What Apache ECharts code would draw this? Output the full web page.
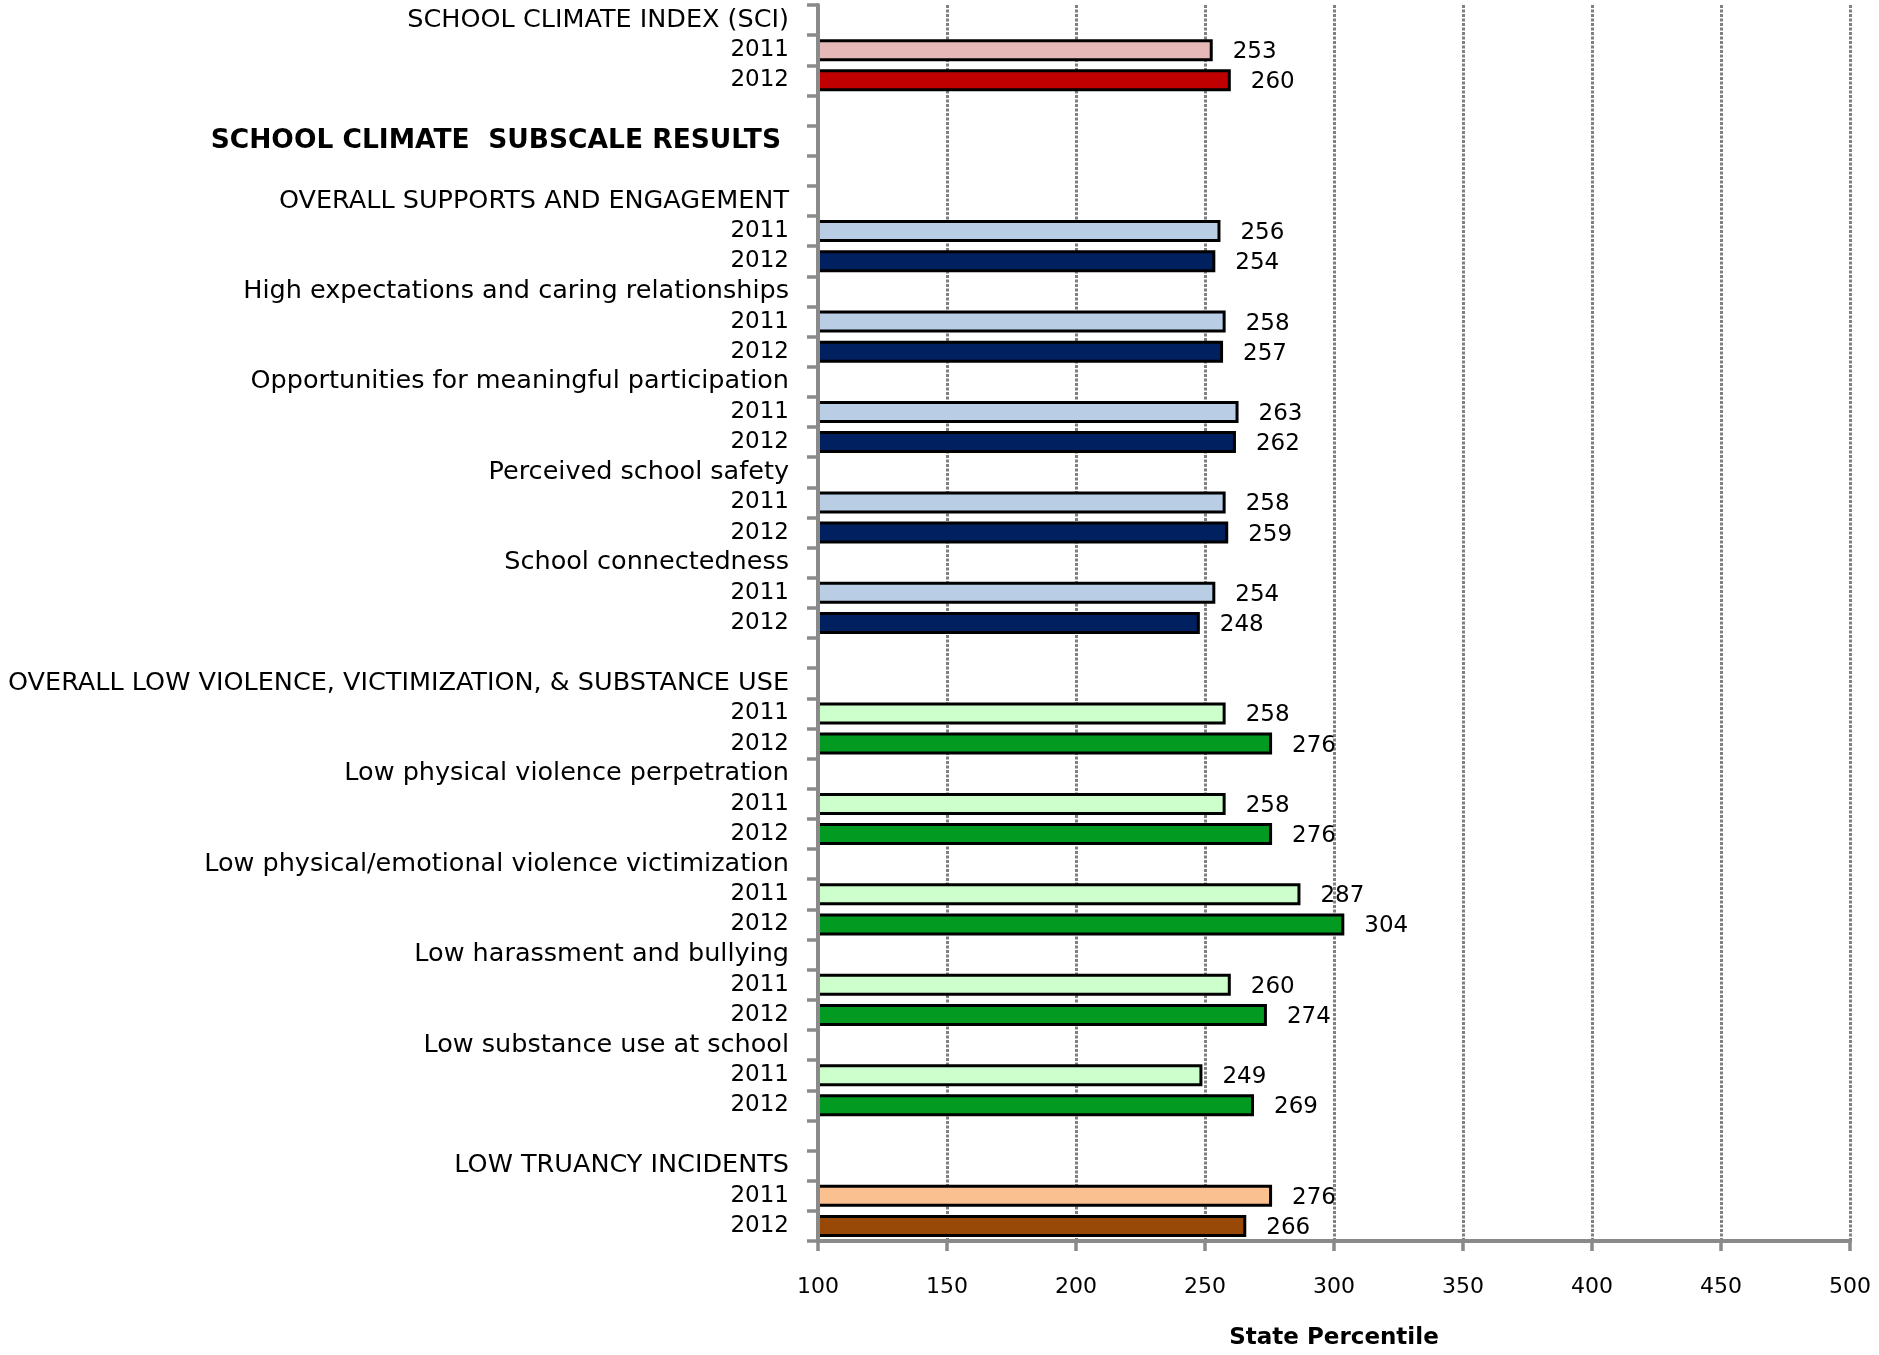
<!DOCTYPE html>
<html>
<head>
<meta charset="utf-8">
<script src="https://cdn.jsdelivr.net/npm/echarts@6/dist/echarts.min.js"></script>
<style>
html,body{margin:0;padding:0;background:#fff;}
#chart{width:1879px;height:1355px;}
</style>
</head>
<body>
<div id="chart"></div>
<script>
// ---- data ----
const categories = [
  'SCHOOL CLIMATE INDEX (SCI)', '2011', '2012', '',
  'SCHOOL CLIMATE  SUBSCALE RESULTS', '',
  'OVERALL SUPPORTS AND ENGAGEMENT', '2011', '2012',
  'High expectations and caring relationships', '2011', '2012',
  'Opportunities for meaningful participation', '2011', '2012',
  'Perceived school safety', '2011', '2012',
  'School connectedness', '2011', '2012', '',
  'OVERALL LOW VIOLENCE, VICTIMIZATION, & SUBSTANCE USE', '2011', '2012',
  'Low physical violence perpetration', '2011', '2012',
  'Low physical/emotional violence victimization', '2011', '2012',
  'Low harassment and bullying', '2011', '2012',
  'Low substance use at school', '2011', '2012', '',
  'LOW TRUANCY INCIDENTS', '2011', '2012'
];
const values = [
  null, 253, 260, null,
  null, null,
  null, 256, 254,
  null, 258, 257,
  null, 263, 262,
  null, 258, 259,
  null, 254, 248, null,
  null, 258, 276,
  null, 258, 276,
  null, 287, 304,
  null, 260, 274,
  null, 249, 269, null,
  null, 276, 266
];
const sectionHeaders = [
  'SCHOOL CLIMATE INDEX (SCI)',
  'OVERALL SUPPORTS AND ENGAGEMENT',
  'OVERALL LOW VIOLENCE, VICTIMIZATION, & SUBSTANCE USE',
  'LOW TRUANCY INCIDENTS'
];
const boldHeaders = ['SCHOOL CLIMATE  SUBSCALE RESULTS'];
const axisMin = 100, axisMax = 500, axisStep = 50;
const axisTitle = 'State Percentile';

// ---- styles ----
const sectionColors = [
  ['#E6B9B8', '#C00000'],
  ['#B9CDE5', '#002060'],
  ['#CCFFCC', '#039A22'],
  ['#FAC090', '#984807']
];
const FONT = 'DejaVu Sans';
const GRAY = '#8a8a8a';

let section = -1;
const barData = categories.map((c, i) => {
  const s = sectionHeaders.indexOf(c);
  if (s >= 0) section = s;
  if (values[i] == null) return null;
  const col = sectionColors[section][c === '2011' ? 0 : 1];
  return { value: values[i], itemStyle: { color: col } };
});

const chart = echarts.init(document.getElementById('chart'), null, { renderer: 'canvas' });
chart.setOption({
  animation: false,
  backgroundColor: '#ffffff',
  grid: { left: 818, right: 29, top: 5, bottom: 109 },
  xAxis: {
    type: 'value',
    min: axisMin, max: axisMax, interval: axisStep,
    axisLine: { show: true, lineStyle: { color: GRAY, width: 4 } },
    axisTick: { show: true, length: 10, lineStyle: { color: GRAY, width: 3.5 } },
    splitLine: { show: true, lineStyle: { color: '#808080', width: 3, type: [3, 1.5] } },
    axisLabel: { color: '#000', fontFamily: FONT, fontSize: 22, margin: 35 },
    name: axisTitle,
    nameLocation: 'middle',
    nameGap: 86,
    nameTextStyle: { color: '#000', fontFamily: FONT, fontSize: 23, fontWeight: 'bold' }
  },
  yAxis: {
    type: 'category',
    data: categories,
    inverse: true,
    z: 5,
    axisLine: { show: true, lineStyle: { color: GRAY, width: 4 } },
    axisTick: { show: true, interval: 0, length: 11, lineStyle: { color: GRAY, width: 3.5 } },
    axisLabel: {
      interval: 0,
      margin: 29,
      color: '#000',
      fontFamily: FONT,
      formatter: function (v) {
        if (v === '') return '';
        if (boldHeaders.indexOf(v) >= 0) return '{b|' + v + '}';
        if (v === '2011' || v === '2012') return '{y|' + v + '}';
        return '{h|' + v + '}';
      },
      rich: {
        h: { fontFamily: FONT, fontSize: 25.5, color: '#000' },
        y: { fontFamily: FONT, fontSize: 23, color: '#000' },
        b: { fontFamily: FONT, fontSize: 26.5, fontWeight: 'bold', color: '#000', padding: [0, 8, 0, 0] }
      }
    }
  },
  series: [{
    type: 'bar',
    data: barData,
    barWidth: 22,
    clip: true,
    itemStyle: { borderColor: '#000', borderWidth: 3 },
    label: {
      show: true,
      position: 'right',
      distance: 20,
      offset: [0, 2],
      color: '#000',
      fontFamily: FONT,
      fontSize: 23
    }
  }]
});
</script>
</body>
</html>
